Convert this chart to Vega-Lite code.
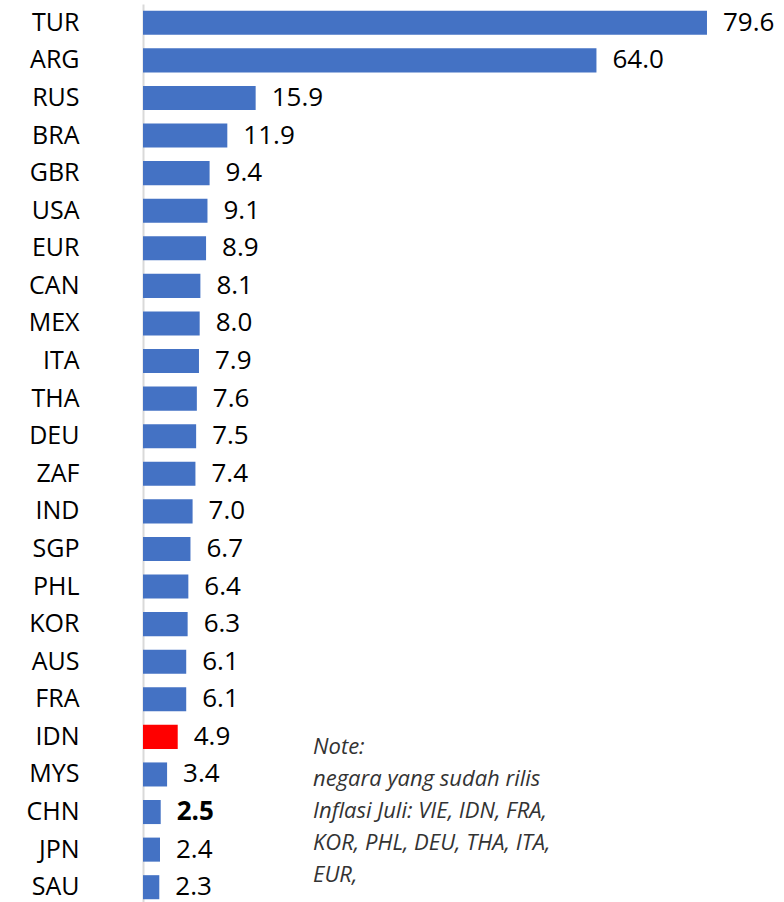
{
  "$schema": "https://vega.github.io/schema/vega-lite/v6.json",
  "width": 641,
  "height": 902,
  "autosize": {"type": "none"},
  "padding": {"left": 143, "top": 4, "right": 0, "bottom": 0},
  "background": "white",
  "config": {"view": {"stroke": null}, "font": "Open Sans"},
  "data": {
    "values": [
      {"code": "TUR", "value": 79.6},
      {"code": "ARG", "value": 64.0},
      {"code": "RUS", "value": 15.9},
      {"code": "BRA", "value": 11.9},
      {"code": "GBR", "value": 9.4},
      {"code": "USA", "value": 9.1},
      {"code": "EUR", "value": 8.9},
      {"code": "CAN", "value": 8.1},
      {"code": "MEX", "value": 8.0},
      {"code": "ITA", "value": 7.9},
      {"code": "THA", "value": 7.6},
      {"code": "DEU", "value": 7.5},
      {"code": "ZAF", "value": 7.4},
      {"code": "IND", "value": 7.0},
      {"code": "SGP", "value": 6.7},
      {"code": "PHL", "value": 6.4},
      {"code": "KOR", "value": 6.3},
      {"code": "AUS", "value": 6.1},
      {"code": "FRA", "value": 6.1},
      {"code": "IDN", "value": 4.9},
      {"code": "MYS", "value": 3.4},
      {"code": "CHN", "value": 2.5},
      {"code": "JPN", "value": 2.4},
      {"code": "SAU", "value": 2.3}
    ]
  },
  "encoding": {
    "y": {
      "field": "code",
      "type": "nominal",
      "sort": null,
      "scale": {
        "domain": ["TUR","ARG","RUS","BRA","GBR","USA","EUR","CAN","MEX","ITA","THA","DEU","ZAF","IND","SGP","PHL","KOR","AUS","FRA","IDN","MYS","CHN","JPN","SAU"],
        "paddingInner": 0.36,
        "paddingOuter": 0.18
      },
      "axis": {
        "title": null,
        "ticks": false,
        "labelPadding": 64,
        "labelFontSize": 25,
        "labelColor": "#000000",
        "labelFont": "Open Sans",
        "domainColor": "#d9d9d9",
        "domainWidth": 2,
        "grid": false
      }
    },
    "x": {
      "field": "value",
      "type": "quantitative",
      "scale": {"domain": [0, 90.47], "nice": false, "zero": true},
      "axis": null
    }
  },
  "layer": [
    {
      "mark": {"type": "bar"},
      "encoding": {
        "color": {
          "condition": {"test": "datum.code === 'IDN'", "value": "#ff0000"},
          "value": "#4472c4"
        }
      }
    },
    {
      "transform": [{"filter": "datum.code !== 'CHN'"}],
      "mark": {"type": "text", "align": "left", "baseline": "middle", "dx": 16, "fontSize": 26, "color": "#000000"},
      "encoding": {"text": {"field": "value", "type": "quantitative", "format": ".1f"}}
    },
    {
      "transform": [{"filter": "datum.code === 'CHN'"}],
      "mark": {"type": "text", "align": "left", "baseline": "middle", "dx": 16, "fontSize": 26, "fontWeight": "bold", "color": "#000000"},
      "encoding": {"text": {"field": "value", "type": "quantitative", "format": ".1f"}}
    },
    {
      "data": {"values": [{"code": "IDN", "value": 24.0, "note": "Note:\nnegara yang sudah rilis\nInflasi Juli: VIE, IDN, FRA,\nKOR, PHL, DEU, THA, ITA,\nEUR,"}]},
      "mark": {"type": "text", "align": "left", "baseline": "top", "lineBreak": "\n", "lineHeight": 32, "fontSize": 22, "fontStyle": "italic", "color": "#333333"},
      "encoding": {"text": {"field": "note", "type": "nominal"}}
    }
  ]
}
